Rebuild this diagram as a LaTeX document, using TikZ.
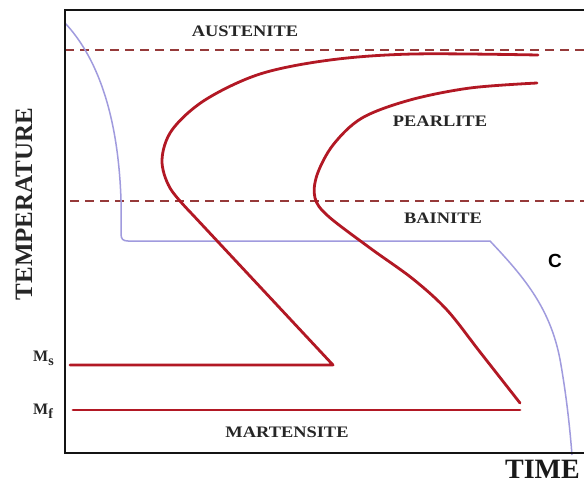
\documentclass[tikz,border=0pt]{standalone}
\usepackage{fontspec}
\setmainfont{Liberation Serif}
\setsansfont{Liberation Sans}
\newfontfamily\widefont{Liberation Serif Bold}[FakeStretch=1.15]
\newfontfamily\boldserif{Liberation Serif Bold}
\definecolor{curvered}{RGB}{178,24,36}
\definecolor{dashred}{RGB}{150,58,58}
\definecolor{coolpurple}{RGB}{160,155,222}
\definecolor{framegray}{RGB}{20,20,20}
\tikzset{
  frameline/.style={draw=framegray, line width=2.4pt},
  phaseline/.style={draw=dashred, line width=1.8pt, dash pattern=on 9pt off 6pt},
  ccurve/.style={draw=curvered, line width=2.8pt, line join=round, line cap=round},
  coolline/.style={draw=coolpurple, line width=1.5pt, line join=round},
  phaselabel/.style={font=\widefont\fontsize{16}{16}\selectfont, text=black!85, inner sep=0pt},
  mlabel/.style={font=\boldserif\fontsize{16}{16}\selectfont, text=black!85, inner sep=0pt, anchor=base west}
}
\begin{document}
\begin{tikzpicture}[x=1pt,y=-1pt]
\useasboundingbox (0,0) rectangle (584,485);
\clip (0,0) rectangle (584,485);
\fill[white] (0,0) rectangle (584,485);
% coordinates
\coordinate (tl) at (65,10);
\coordinate (tr) at (590,10);
\coordinate (bl) at (65,453);
\coordinate (br) at (590,453);
\coordinate (d1a) at (65,50);
\coordinate (d1b) at (590,50);
\coordinate (d2a) at (70,201);
\coordinate (d2b) at (590,201);
\coordinate (msa) at (70,365);
\coordinate (msb) at (333,365);
\coordinate (mfa) at (73,410);
\coordinate (mfb) at (520,410);
% dashed phase lines
\draw[phaseline] (d1a) -- (d1b);
\draw[phaseline] (d2a) -- (d2b);
% cooling curve
\draw[coolline] (65,23) .. controls (95,55) and (118,110) .. (121,200) -- (121,234)
  .. controls (121,239) and (123,241) .. (128,241) -- (490,241)
  .. controls (525,278) and (552,310) .. (561,365)
  .. controls (567,400) and (570,430) .. (572,455);
% C curves
\draw[ccurve] plot[smooth, tension=0.55] coordinates {(538,55) (413,54) (330,60) (260,74) (205,100) (172,130) (162,160) (170,188) (192,214)} -- (msb) -- (msa);
\draw[ccurve] plot[smooth, tension=0.55] coordinates {(537,83) (470,88) (410,100) (362,118) (333,145) (317,175) (315,198) (328,216) (370,248) (413,279) (447,310) (480,352) (520,403)};
\draw[ccurve] (mfa) -- (mfb);
% frame
\draw[frameline] (tr) -- (tl) -- (bl) -- (br);
% labels
\node[phaselabel] (aus) at (245,31) {AUSTENITE};
\node[phaselabel] (pea) at (440,121) {PEARLITE};
\node[phaselabel] (bai) at (443,218) {BAINITE};
\node[phaselabel] (mar) at (287,432) {MARTENSITE};
\node[font=\sffamily\bfseries\fontsize{19}{19}\selectfont, inner sep=0pt] (c) at (555,261) {C};
\node[font=\boldserif\fontsize{28}{28}\selectfont, text=black!90, inner sep=0pt, anchor=base east] (time) at (580,478) {TIME};
\node[font=\boldserif\fontsize{25}{25}\selectfont, text=black!85, inner sep=0pt, rotate=90] (temp) at (24,204) {TEMPERATURE};
\node[mlabel] (ms) at (33,361) {M\raisebox{-4pt}{\fontsize{14}{14}\selectfont s}};
\node[mlabel] (mf) at (33,414) {M\raisebox{-4pt}{\fontsize{14}{14}\selectfont f}};
\end{tikzpicture}
\end{document}
